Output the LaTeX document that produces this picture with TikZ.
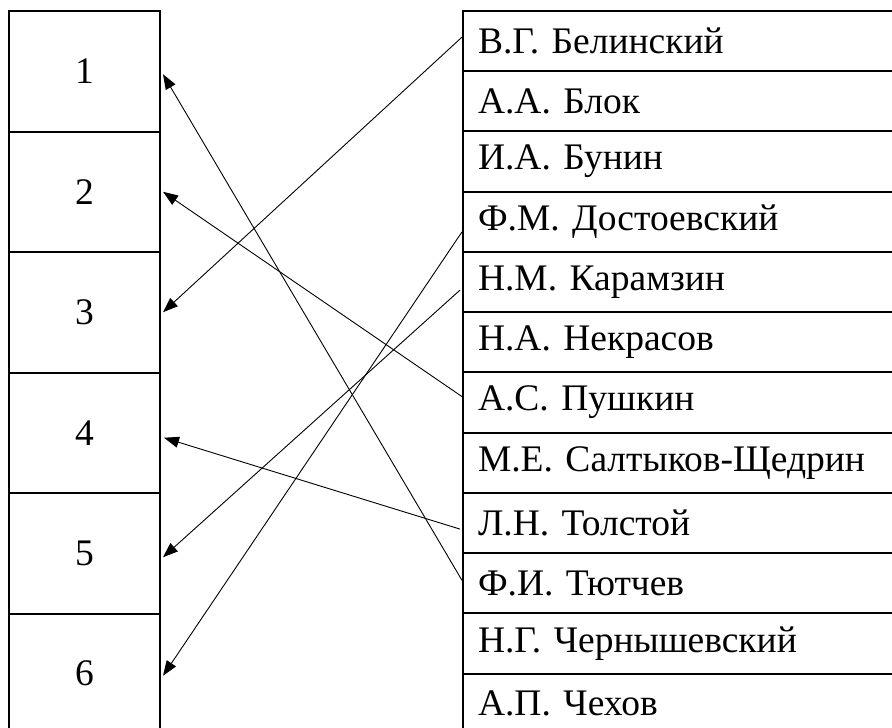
\documentclass[tikz,border=0pt]{standalone}
\usepackage{fontspec}
\setmainfont{Liberation Serif}
\frenchspacing
\usetikzlibrary{arrows.meta}
\tikzset{
  numbox/.style={draw, line width=2pt, minimum width=151pt, minimum height=120.5pt, inner sep=0pt,
    font=\fontsize{37.5pt}{42pt}\selectfont\frenchspacing},
  namebox/.style={draw, line width=2pt, anchor=west, minimum width=560pt, minimum height=60.25pt,
    text width=530pt, align=left, inner xsep=15pt, inner ysep=0pt,
    font=\fontsize{37.5pt}{42pt}\selectfont\frenchspacing},
  arr/.style={line width=0.9pt, -{Triangle[length=15pt,width=11pt]}}
}
\begin{document}
\begin{tikzpicture}[x=1pt,y=1pt]
\useasboundingbox[fill=white] (0,0) rectangle (892,-728);
% left boxes
\foreach \i in {1,...,6} {
  \node[numbox] (L\i) at (84.5,{-71.25-120.5*(\i-1)}) {\i};
}
% right rows
\foreach \j/\t in {1/В.Г. Белинский, 2/А.А. Блок, 3/И.А. Бунин, 4/Ф.М. Достоевский,
  5/Н.М. Карамзин, 6/Н.А. Некрасов, 7/А.С. Пушкин, 8/М.Е. Салтыков-Щедрин,
  9/Л.Н. Толстой, 10/Ф.И. Тютчев, 11/Н.Г. Чернышевский, 12/А.П. Чехов} {
  \node[namebox] (R\j) at (462,{-41.1-60.25*(\j-1)}) {\t};
}
% connectors
\draw[arr] ([yshift=4pt]R1.west) -- ([xshift=2pt,yshift=0pt]L3.east);
\draw[arr] ([yshift=-10pt]R4.west) -- ([xshift=2pt,yshift=-2pt]L6.east);
\draw[arr] ([xshift=-2pt,yshift=-8pt]R5.west) -- ([xshift=2pt,yshift=-4pt]L5.east);
\draw[arr] ([yshift=6pt]R7.west) -- ([xshift=2pt,yshift=0pt]L2.east);
\draw[arr] ([xshift=-2pt,yshift=-6pt]R9.west) -- ([xshift=3pt,yshift=-5pt]L4.east);
\draw[arr] ([yshift=3pt]R10.west) -- ([xshift=2pt,yshift=-3pt]L1.east);
\end{tikzpicture}
\end{document}
